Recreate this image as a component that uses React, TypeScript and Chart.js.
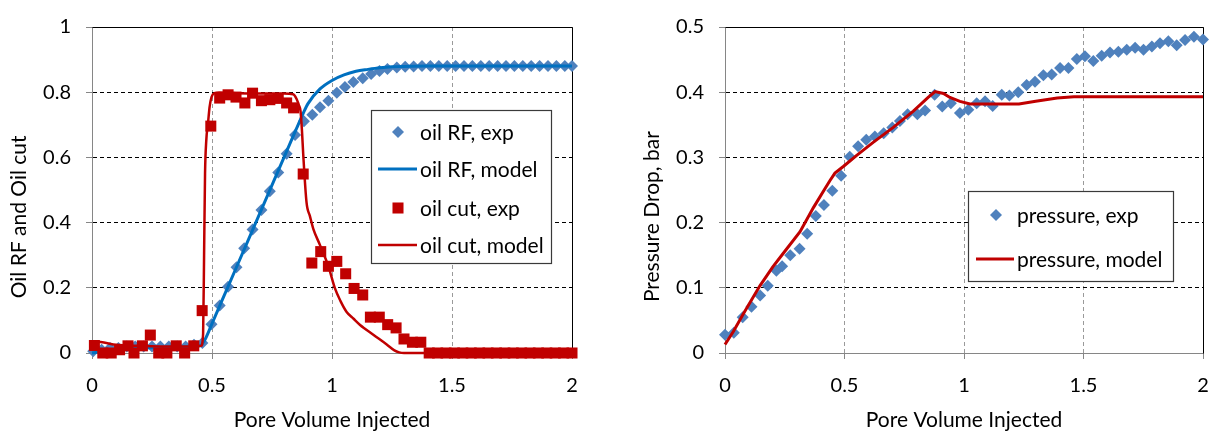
import React, { useEffect, useRef } from 'react';
import { Chart, registerables } from 'chart.js';

Chart.register(...registerables);

const FONT = 'Lato';
const FS_TICK = 20;
const FS_TEXT = 21;
const PAD_NBSP = '\u00a0'.repeat(10);

// ---------- Left chart: oil RF and oil cut ----------
const rfExpLabel = 'oil RF, exp';
const rfExpX = [0.005, 0.04, 0.075, 0.11, 0.145, 0.18, 0.215, 0.25, 0.285, 0.32, 0.355, 0.39, 0.425, 0.46, 0.498, 0.532, 0.567, 0.602, 0.634, 0.669, 0.706, 0.741, 0.776, 0.811, 0.846, 0.883, 0.918, 0.95, 0.985, 1.02, 1.054, 1.089, 1.128, 1.163, 1.198, 1.231, 1.27, 1.305, 1.34, 1.375, 1.41, 1.445, 1.48, 1.515, 1.55, 1.585, 1.62, 1.655, 1.69, 1.725, 1.76, 1.795, 1.83, 1.865, 1.9, 1.935, 1.97, 2.0];
const rfExpY = [0.005, 0.01, 0.015, 0.015, 0.02, 0.02, 0.02, 0.02, 0.02, 0.02, 0.02, 0.02, 0.025, 0.031, 0.088, 0.146, 0.203, 0.263, 0.321, 0.379, 0.439, 0.496, 0.554, 0.611, 0.669, 0.711, 0.731, 0.754, 0.774, 0.798, 0.816, 0.831, 0.843, 0.856, 0.865, 0.871, 0.876, 0.878, 0.879, 0.88, 0.88, 0.88, 0.88, 0.88, 0.88, 0.88, 0.88, 0.88, 0.88, 0.88, 0.88, 0.88, 0.88, 0.88, 0.88, 0.88, 0.88, 0.88];

const rfModelLabel = 'oil RF, model';
const rfModelX = [0, 0.1, 0.2, 0.3, 0.4, 0.45, 0.47, 0.5, 0.55, 0.6, 0.65, 0.7, 0.75, 0.8, 0.85, 0.88, 0.9, 0.95, 1.0, 1.05, 1.1, 1.15, 1.2, 1.25, 1.3, 1.4, 1.6, 1.8, 2.0];
const rfModelY = [0, 0.01, 0.015, 0.018, 0.02, 0.022, 0.04, 0.09, 0.175, 0.26, 0.345, 0.43, 0.515, 0.6, 0.685, 0.735, 0.765, 0.81, 0.836, 0.853, 0.864, 0.87, 0.875, 0.878, 0.879, 0.88, 0.88, 0.88, 0.88];

const cutExpLabel = 'oil cut, exp';
const cutExpX = [0.01, 0.045, 0.08, 0.115, 0.15, 0.175, 0.21, 0.243, 0.278, 0.312, 0.351, 0.386, 0.424, 0.459, 0.495, 0.532, 0.567, 0.6, 0.637, 0.669, 0.706, 0.741, 0.776, 0.811, 0.84, 0.88, 0.916, 0.953, 0.985, 1.02, 1.057, 1.092, 1.128, 1.16, 1.197, 1.232, 1.267, 1.3, 1.335, 1.37, 1.405, 1.44, 1.475, 1.51, 1.545, 1.58, 1.615, 1.65, 1.685, 1.72, 1.755, 1.79, 1.825, 1.86, 1.895, 1.93, 1.965, 2.0];
const cutExpY = [0.023, 0, 0, 0.01, 0.022, 0, 0.022, 0.055, 0, 0, 0.022, 0, 0.022, 0.13, 0.696, 0.782, 0.792, 0.785, 0.767, 0.797, 0.774, 0.777, 0.781, 0.767, 0.752, 0.549, 0.276, 0.311, 0.266, 0.281, 0.243, 0.198, 0.178, 0.11, 0.11, 0.087, 0.077, 0.043, 0.033, 0.033, 0, 0, 0, 0, 0, 0, 0, 0, 0, 0, 0, 0, 0, 0, 0, 0, 0, 0];

const cutModelLabel = 'oil cut, model';
const cutModelX = [0, 0.05, 0.1, 0.2, 0.3, 0.4, 0.455, 0.463, 0.467, 0.471, 0.476, 0.484, 0.49, 0.498, 0.51, 0.53, 0.6, 0.7, 0.8, 0.838, 0.852, 0.862, 0.869, 0.875, 0.88, 0.894, 0.908, 0.922, 0.95, 0.985, 1.012, 1.035, 1.061, 1.09, 1.117, 1.172, 1.228, 1.26, 1.28, 1.3, 1.5, 2.0];
const cutModelY = [0.035, 0.032, 0.025, 0.022, 0.02, 0.02, 0.022, 0.06, 0.3, 0.55, 0.65, 0.71, 0.755, 0.785, 0.797, 0.799, 0.797, 0.796, 0.796, 0.794, 0.78, 0.76, 0.741, 0.68, 0.611, 0.461, 0.42, 0.381, 0.331, 0.266, 0.199, 0.16, 0.126, 0.105, 0.086, 0.056, 0.026, 0.008, 0.002, 0, 0, 0];

// ---------- Right chart: pressure drop ----------
const pExpLabel = 'pressure, exp';
const pExpX = [0, 0.037, 0.074, 0.111, 0.147, 0.179, 0.215, 0.239, 0.273, 0.312, 0.344, 0.38, 0.414, 0.449, 0.486, 0.522, 0.557, 0.591, 0.627, 0.664, 0.7, 0.732, 0.764, 0.805, 0.837, 0.877, 0.909, 0.945, 0.983, 1.018, 1.053, 1.088, 1.12, 1.158, 1.19, 1.227, 1.262, 1.297, 1.332, 1.367, 1.402, 1.437, 1.472, 1.506, 1.541, 1.576, 1.611, 1.646, 1.681, 1.716, 1.751, 1.786, 1.82, 1.855, 1.89, 1.925, 1.962, 2.0];
const pExpY = [0.028, 0.031, 0.055, 0.071, 0.088, 0.103, 0.126, 0.133, 0.15, 0.16, 0.183, 0.21, 0.227, 0.249, 0.272, 0.301, 0.317, 0.327, 0.332, 0.337, 0.346, 0.356, 0.366, 0.366, 0.372, 0.396, 0.378, 0.383, 0.368, 0.373, 0.383, 0.386, 0.379, 0.396, 0.395, 0.4, 0.411, 0.416, 0.426, 0.427, 0.437, 0.437, 0.451, 0.455, 0.448, 0.456, 0.461, 0.462, 0.465, 0.468, 0.465, 0.47, 0.475, 0.478, 0.472, 0.48, 0.485, 0.481];

const pModelLabel = 'pressure, model';
const pModelX = [0, 0.035, 0.08, 0.146, 0.2, 0.244, 0.314, 0.37, 0.418, 0.44, 0.46, 0.495, 0.551, 0.62, 0.704, 0.788, 0.85, 0.879, 0.914, 0.941, 0.983, 1.025, 1.15, 1.23, 1.3, 1.39, 1.46, 2.0];
const pModelY = [0.013, 0.033, 0.062, 0.103, 0.132, 0.153, 0.186, 0.223, 0.252, 0.265, 0.276, 0.286, 0.303, 0.323, 0.346, 0.371, 0.392, 0.401, 0.398, 0.392, 0.386, 0.382, 0.382, 0.382, 0.386, 0.391, 0.393, 0.393];

const xTitle = 'Pore Volume Injected';
const leftYTitle = 'Oil RF and Oil cut';
const rightYTitle = 'Pressure Drop, bar';

const BLUE_PT = '#4F81BD';
const BLUE_LINE = '#0070C0';
const RED = '#C00000';

const pts = (xs: number[], ys: number[]) => xs.map((x, i) => ({ x, y: ys[i] }));

const tickFont = { family: FONT, size: FS_TICK };
const textFont = { family: FONT, size: FS_TEXT };
const transparent = 'rgba(0,0,0,0)';
const fmt = (v: any) => String(Number(Number(v).toFixed(3)));

const framePlugin = {
  id: 'frame',
  beforeDatasetsDraw(chart: any) {
    const { ctx, chartArea: a } = chart;
    ctx.save();
    ctx.strokeStyle = '#000';
    ctx.lineWidth = 1;
    ctx.beginPath();
    ctx.moveTo(Math.round(a.left) + 0.5, Math.round(a.top) + 0.5);
    ctx.lineTo(Math.round(a.right) + 0.5, Math.round(a.top) + 0.5);
    ctx.lineTo(Math.round(a.right) + 0.5, Math.round(a.bottom) + 0.5);
    ctx.stroke();
    ctx.restore();
  },
};

const boxLegendPlugin = {
  id: 'boxLegend',
  afterDraw(chart: any, _args: any, opts: any) {
    const { ctx } = chart;
    const [bx, by, bw, bh] = opts.box;
    ctx.save();
    ctx.fillStyle = '#fff';
    ctx.fillRect(bx, by, bw, bh);
    ctx.strokeStyle = '#3a3a3a';
    ctx.lineWidth = 1.2;
    ctx.strokeRect(bx + 0.5, by + 0.5, bw, bh);
    ctx.font = `${FS_TEXT}px ${FONT}`;
    ctx.textBaseline = 'middle';
    ctx.textAlign = 'left';
    opts.rows.forEach((row: any) => {
      const ds = chart.data.datasets[row.index];
      if (ds.showLine) {
        ctx.strokeStyle = ds.borderColor;
        ctx.lineWidth = ds.borderWidth;
        ctx.beginPath();
        ctx.moveTo(opts.lineX1, row.y);
        ctx.lineTo(opts.lineX2, row.y);
        ctx.stroke();
      } else {
        ctx.fillStyle = ds.backgroundColor;
        const r = ds.pointRadius;
        const cx = opts.markerX;
        const cy = row.y;
        ctx.beginPath();
        if (ds.pointStyle === 'rectRot') {
          ctx.moveTo(cx - r, cy);
          ctx.lineTo(cx, cy - r);
          ctx.lineTo(cx + r, cy);
          ctx.lineTo(cx, cy + r);
          ctx.closePath();
        } else {
          const h = Math.SQRT1_2 * r;
          ctx.rect(cx - h, cy - h, 2 * h, 2 * h);
        }
        ctx.fill();
      }
      ctx.fillStyle = '#000';
      ctx.fillText(ds.label, opts.textX, row.y + 1);
    });
    ctx.restore();
  },
};

function xScale(afterH: number) {
  return {
    type: 'linear',
    min: 0,
    max: 2,
    ticks: { stepSize: 0.5, color: '#000', font: tickFont, padding: 15, maxRotation: 0, autoSkip: false, callback: fmt },
    grid: {
      color: (c: any) => (c.tick && c.tick.value === 0 ? transparent : '#9a9a9a'),
      lineWidth: 1,
      tickLength: 6,
      tickColor: '#868686',
      tickWidth: 1,
    },
    border: { display: true, color: '#868686', width: 1, dash: [4, 3] },
    title: { display: true, text: xTitle, color: '#000', font: textFont, padding: { top: 0, bottom: 0 } },
    afterFit: (s: any) => {
      s.height = afterH;
      s.paddingLeft = 0;
      s.paddingRight = 0;
    },
  };
}

function yScale(max: number, step: number, title: string, width: number, titlePad: number) {
  return {
    type: 'linear',
    min: 0,
    max,
    ticks: { stepSize: step, color: '#000', font: tickFont, padding: 15, callback: fmt },
    grid: {
      color: (c: any) => (c.tick && c.tick.value === 0 ? transparent : '#000'),
      lineWidth: 1,
      tickLength: 6,
      tickColor: '#868686',
      tickWidth: 1,
    },
    border: { display: true, color: '#868686', width: 1, dash: [4, 3] },
    title: { display: true, text: title + PAD_NBSP, color: '#000', font: textFont, padding: { top: titlePad, bottom: 0 } },
    afterFit: (s: any) => {
      s.width = width;
    },
  };
}

function leftConfig(): any {
  return {
    type: 'scatter',
    data: {
      datasets: [
        { label: rfExpLabel, data: pts(rfExpX, rfExpY), pointStyle: 'rectRot', pointRadius: 6, pointHoverRadius: 6, backgroundColor: BLUE_PT, borderColor: BLUE_PT, borderWidth: 0, showLine: false, order: 4, clip: false },
        { label: rfModelLabel, data: pts(rfModelX, rfModelY), showLine: true, pointRadius: 0, borderColor: BLUE_LINE, backgroundColor: BLUE_LINE, borderWidth: 3, cubicInterpolationMode: 'monotone', order: 3, clip: false },
        { label: cutExpLabel, data: pts(cutExpX, cutExpY), pointStyle: 'rect', pointRadius: 7.8, pointHoverRadius: 7.8, backgroundColor: RED, borderColor: RED, borderWidth: 0, showLine: false, order: 2, clip: false },
        { label: cutModelLabel, data: pts(cutModelX, cutModelY), showLine: true, pointRadius: 0, borderColor: RED, backgroundColor: RED, borderWidth: 2.5, cubicInterpolationMode: 'monotone', order: 1, clip: false },
      ],
    },
    options: {
      responsive: false,
      animation: false,
      events: [],
      layout: { padding: { top: 21, right: 28, left: 0, bottom: 0 } },
      scales: {
        x: xScale(80),
        y: yScale(1, 0.2, leftYTitle, 92, 7),
      },
      plugins: {
        legend: { display: false },
        tooltip: { enabled: false },
        boxLegend: {
          box: [371, 110, 180, 153],
          rows: [
            { index: 0, y: 132 },
            { index: 1, y: 169 },
            { index: 2, y: 208 },
            { index: 3, y: 245 },
          ],
          markerX: 398,
          lineX1: 378,
          lineX2: 417,
          textX: 420,
        },
      },
    },
    plugins: [framePlugin, boxLegendPlugin],
  };
}

function rightConfig(): any {
  return {
    type: 'scatter',
    data: {
      datasets: [
        { label: pExpLabel, data: pts(pExpX, pExpY), pointStyle: 'rectRot', pointRadius: 6, pointHoverRadius: 6, backgroundColor: BLUE_PT, borderColor: BLUE_PT, borderWidth: 0, showLine: false, order: 2, clip: false },
        { label: pModelLabel, data: pts(pModelX, pModelY), showLine: true, pointRadius: 0, borderColor: RED, backgroundColor: RED, borderWidth: 3, tension: 0, order: 1, clip: false },
      ],
    },
    options: {
      responsive: false,
      animation: false,
      events: [],
      layout: { padding: { top: 21, right: 14, left: 0, bottom: 0 } },
      scales: {
        x: xScale(80),
        y: yScale(0.5, 0.1, rightYTitle, 115, 30),
      },
      plugins: {
        legend: { display: false },
        tooltip: { enabled: false },
        boxLegend: {
          box: [358, 191, 205, 90],
          rows: [
            { index: 0, y: 215 },
            { index: 1, y: 259 },
          ],
          markerX: 386,
          lineX1: 366,
          lineX2: 404,
          textX: 407,
        },
      },
    },
    plugins: [framePlugin, boxLegendPlugin],
  };
}

function ChartBox({ make, left, width, height }: { make: () => any; left: number; width: number; height: number }) {
  const ref = useRef<HTMLCanvasElement>(null);
  useEffect(() => {
    const chart = new Chart(ref.current as HTMLCanvasElement, make());
    return () => chart.destroy();
  }, [make]);
  return (
    <div style={{ position: 'absolute', left, top: 0, width, height }}>
      <canvas ref={ref} width={width} height={height} style={{ width, height, display: 'block' }} />
    </div>
  );
}

export default function App() {
  return (
    <div style={{ position: 'absolute', left: 0, top: 0, width: 1217, height: 433, background: '#fff', overflow: 'hidden' }}>
      <ChartBox make={leftConfig} left={0} width={600} height={433} />
      <ChartBox make={rightConfig} left={610} width={607} height={433} />
    </div>
  );
}
